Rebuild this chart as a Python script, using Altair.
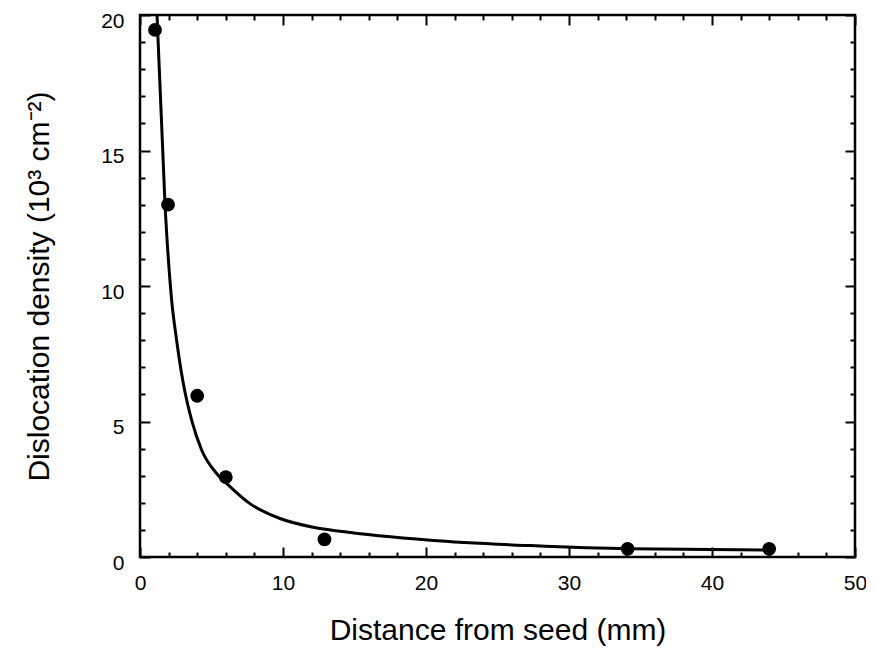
import altair as alt
import pandas as pd

# measured data points
pt_x = [1.05, 1.96, 4.0, 6.0, 12.9, 34.1, 44.0]
pt_y = [19.45, 13.0, 5.95, 2.95, 0.65, 0.3, 0.3]

# fitted curve
cv_x = [1.19, 1.75, 2.21, 2.56, 3.03, 3.61, 4.31, 5.36, 6.29, 7.69, 9.79, 12.1, 14.0, 20.3, 27.3, 34.3, 44.0]
cv_y = [20.0, 13.0, 9.5, 8.0, 6.4, 5.05, 3.95, 3.08, 2.6, 1.97, 1.42, 1.1, 0.95, 0.62, 0.42, 0.3, 0.26]

x_major = [0, 10, 20, 30, 40, 50]
x_minor = list(range(0, 51, 2))
y_major = [0, 5, 10, 15, 20]
y_minor = list(range(0, 21, 1))

W, H = 715, 542
FONT = "Liberation Sans"

pts = pd.DataFrame({"x": pt_x, "y": pt_y})
crv = pd.DataFrame({"x": cv_x, "y": cv_y})

xs = alt.Scale(domain=[0, 50], nice=False, zero=False)
ys = alt.Scale(domain=[0, 20], nice=False, zero=False)

x_tick = {"condition": {"test": "datum.value % 10 === 0", "value": 10}, "value": 5}
y_tick = {"condition": {"test": "datum.value % 5 === 0", "value": 10}, "value": 5}

tick_common = dict(labels=False, domain=False, grid=False, tickColor="black",
                   tickWidth=2, title=None)

points = alt.Chart(pts).mark_circle(size=190, color="black", opacity=1).encode(
    x=alt.X("x:Q", scale=xs, axis=alt.Axis(
        orient="bottom", values=x_major, ticks=False, domain=False, grid=False,
        labelFont=FONT, labelFontSize=21, labelColor="black", labelPadding=15,
        labelFlush=False, labelBound=False,
        title="Distance from seed (mm)", titleFont=FONT, titleFontSize=30,
        titleFontWeight="normal", titleColor="black", titlePadding=22)),
    y=alt.Y("y:Q", scale=ys, axis=alt.Axis(
        orient="left", values=y_major, ticks=False, domain=False, grid=False,
        labelFont=FONT, labelFontSize=21, labelColor="black", labelPadding=16,
        labelFlush=False, labelBound=False, labelOffset=6,
        title="Dislocation density (10³ cm⁻²)", titleFont=FONT, titleFontSize=30,
        titleFontWeight="normal", titleColor="black", titlePadding=46)),
)

curve = alt.Chart(crv).mark_line(color="black", strokeWidth=3, interpolate="monotone").encode(
    x=alt.X("x:Q", scale=xs, axis=alt.Axis(orient="top", offset=-H, values=x_minor,
                                           tickSize=x_tick, **tick_common)),
    y=alt.Y("y:Q", scale=ys, axis=alt.Axis(orient="right", offset=-W, values=y_minor,
                                           tickSize=y_tick, **tick_common)),
)

ghost = alt.Chart(crv).mark_line(strokeOpacity=0).encode(
    x=alt.X("x:Q", scale=xs, axis=alt.Axis(orient="bottom", offset=-H, values=x_minor,
                                           tickSize=x_tick, **tick_common)),
    y=alt.Y("y:Q", scale=ys, axis=alt.Axis(orient="left", offset=-W, values=y_minor,
                                           tickSize=y_tick, **tick_common)),
)

chart = alt.layer(points, curve, ghost).resolve_axis(
    x="independent", y="independent"
).properties(
    width=W, height=H,
    autosize=alt.AutoSizeParams(type="none"),
    padding={"left": 132, "top": 7, "right": 11, "bottom": 89},
    background="white",
).configure_view(stroke="black", strokeWidth=2.5)

chart.save("out.html", embed_options={"renderer": "svg", "actions": False})
